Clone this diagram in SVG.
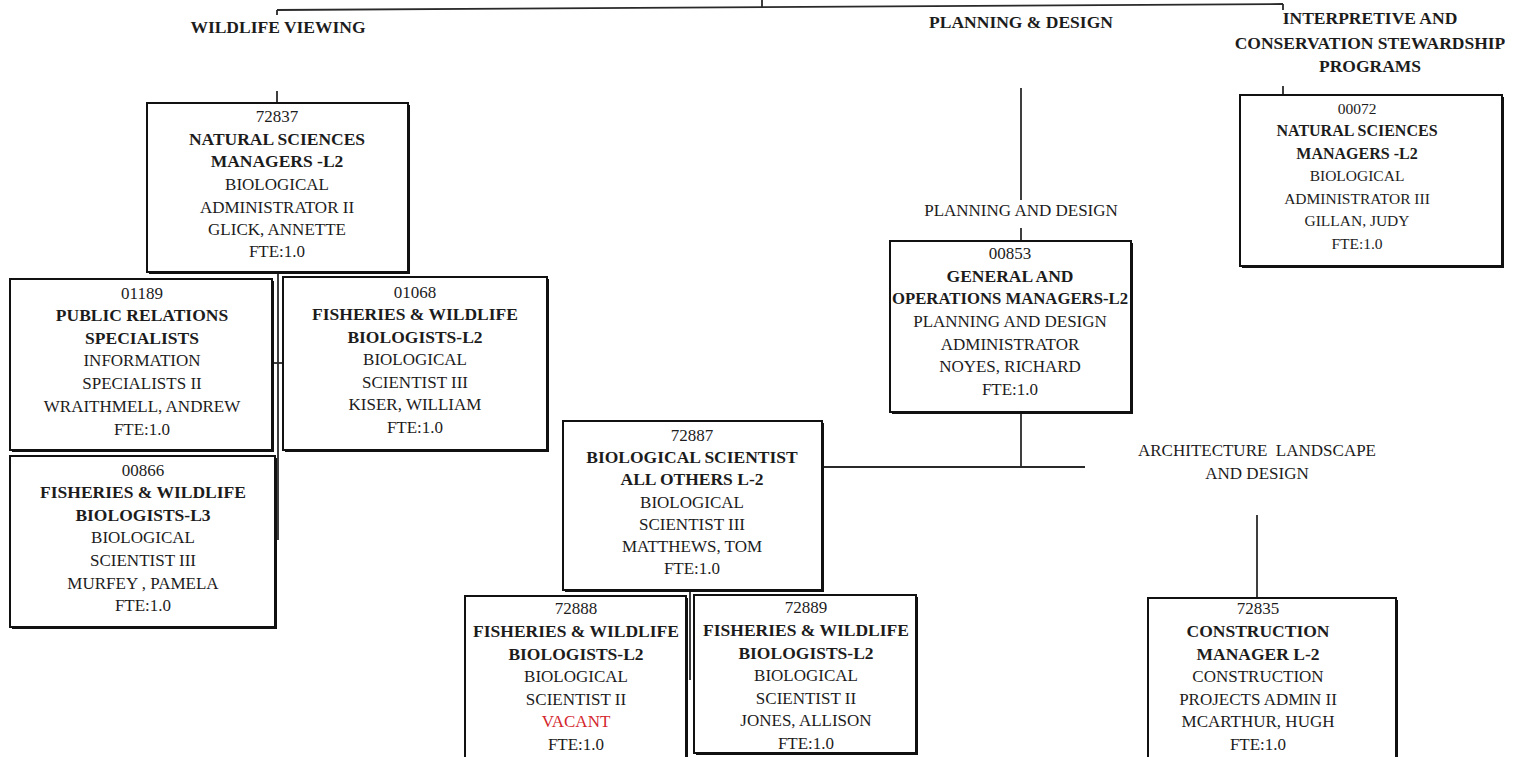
<svg xmlns="http://www.w3.org/2000/svg" width="1515" height="757" viewBox="0 0 1515 757">
  <style>
    .shadow { fill: #111; }
    .box { fill: #fff; stroke: #111; stroke-width: 2; }
    .t { font-family: 'Liberation Serif', 'DejaVu Serif', serif; font-size: 17px; fill: #1c1c1c; text-anchor: middle; }
    .b { font-weight: bold; font-size: 17.5px; }
    .sm { font-size: 15.5px; }
    .smb { font-weight: bold; font-size: 16px; }
    .vacant { fill: #d4262c; }
    .conn { stroke: #2a2a2a; stroke-width: 1.8; fill: none; }
  </style>

  <!-- connectors -->
  <g id="connectors">
    <path class="conn" d="M277 10 L1283 4" />
    <path class="conn" d="M762 0 L762 8" />
    <path class="conn" d="M277 10 L277 15" />
    <path class="conn" d="M1283 4 L1283 10" />
    <!-- wildlife viewing -->
    <path class="conn" d="M277 91 L277 103" />
    <path class="conn" d="M278 272 L278 540" />
    <path class="conn" d="M272 363 L284 363" />
    <!-- biological scientist team -->
    <path class="conn" d="M690 590 L690 680" />
    <!-- planning & design -->
    <path class="conn" d="M1021 88 L1021 200" />
    <path class="conn" d="M1021 228 L1021 241" />
    <path class="conn" d="M1021 412 L1021 467" />
    <path class="conn" d="M822 467 L1085 467" />
    <path class="conn" d="M1257 515 L1257 598" />
    <!-- interpretive programs -->
    <path class="conn" d="M1283 86 L1283 95" />
  </g>

  <!-- section headings -->
  <g id="headings">
    <text class="t b" x="278" y="33">WILDLIFE VIEWING</text>
    <text class="t b" x="1021" y="28">PLANNING &amp; DESIGN</text>
    <text class="t b" x="1370" y="24">INTERPRETIVE AND</text>
    <text class="t b" x="1370" y="49">CONSERVATION STEWARDSHIP</text>
    <text class="t b" x="1370" y="72">PROGRAMS</text>
    <text class="t" x="1021" y="216">PLANNING AND DESIGN</text>
    <text class="t" x="1257" y="456" xml:space="preserve">ARCHITECTURE  LANDSCAPE</text>
    <text class="t" x="1257" y="479">AND DESIGN</text>
  </g>

  <!-- 72837 -->
  <g id="n72837">
    <rect class="shadow" x="149" y="105" width="261" height="169" />
    <rect class="box" x="147" y="103" width="261" height="169" />
    <text class="t" x="277" y="122">72837</text>
    <text class="t b" x="277" y="145">NATURAL SCIENCES</text>
    <text class="t b" x="277" y="167">MANAGERS -L2</text>
    <text class="t" x="277" y="190">BIOLOGICAL</text>
    <text class="t" x="277" y="213">ADMINISTRATOR II</text>
    <text class="t" x="277" y="235">GLICK, ANNETTE</text>
    <text class="t" x="277" y="257">FTE:1.0</text>
  </g>

  <!-- 01189 -->
  <g id="n01189">
    <rect class="shadow" x="12" y="281" width="262" height="171" />
    <rect class="box" x="10" y="279" width="262" height="171" />
    <text class="t" x="142" y="299">01189</text>
    <text class="t b" x="142" y="321">PUBLIC RELATIONS</text>
    <text class="t b" x="142" y="344">SPECIALISTS</text>
    <text class="t" x="142" y="366">INFORMATION</text>
    <text class="t" x="142" y="389">SPECIALISTS II</text>
    <text class="t" x="142" y="412">WRAITHMELL, ANDREW</text>
    <text class="t" x="142" y="435">FTE:1.0</text>
  </g>

  <!-- 01068 -->
  <g id="n01068">
    <rect class="shadow" x="285" y="279" width="264" height="173" />
    <rect class="box" x="283" y="277" width="264" height="173" />
    <text class="t" x="415" y="298">01068</text>
    <text class="t b" x="415" y="320">FISHERIES &amp; WILDLIFE</text>
    <text class="t b" x="415" y="343">BIOLOGISTS-L2</text>
    <text class="t" x="415" y="365">BIOLOGICAL</text>
    <text class="t" x="415" y="388">SCIENTIST III</text>
    <text class="t" x="415" y="410">KISER, WILLIAM</text>
    <text class="t" x="415" y="433">FTE:1.0</text>
  </g>

  <!-- 00866 -->
  <g id="n00866">
    <rect class="shadow" x="12" y="458" width="265" height="171" />
    <rect class="box" x="10" y="456" width="265" height="171" />
    <text class="t" x="143" y="476">00866</text>
    <text class="t b" x="143" y="498">FISHERIES &amp; WILDLIFE</text>
    <text class="t b" x="143" y="521">BIOLOGISTS-L3</text>
    <text class="t" x="143" y="543">BIOLOGICAL</text>
    <text class="t" x="143" y="566">SCIENTIST III</text>
    <text class="t" x="143" y="589">MURFEY , PAMELA</text>
    <text class="t" x="143" y="611">FTE:1.0</text>
  </g>

  <!-- 72887 -->
  <g id="n72887">
    <rect class="shadow" x="565" y="423" width="259" height="169" />
    <rect class="box" x="563" y="421" width="259" height="169" />
    <text class="t" x="692" y="441">72887</text>
    <text class="t b" x="692" y="463">BIOLOGICAL SCIENTIST</text>
    <text class="t b" x="692" y="485">ALL OTHERS L-2</text>
    <text class="t" x="692" y="508">BIOLOGICAL</text>
    <text class="t" x="692" y="530">SCIENTIST III</text>
    <text class="t" x="692" y="552">MATTHEWS, TOM</text>
    <text class="t" x="692" y="574">FTE:1.0</text>
  </g>

  <!-- 72888 -->
  <g id="n72888">
    <rect class="shadow" x="467" y="598" width="221" height="165" />
    <rect class="box" x="465" y="596" width="221" height="165" />
    <text class="t" x="576" y="614">72888</text>
    <text class="t b" x="576" y="637">FISHERIES &amp; WILDLIFE</text>
    <text class="t b" x="576" y="660">BIOLOGISTS-L2</text>
    <text class="t" x="576" y="682">BIOLOGICAL</text>
    <text class="t" x="576" y="705">SCIENTIST II</text>
    <text class="t vacant" x="576" y="727">VACANT</text>
    <text class="t" x="576" y="750">FTE:1.0</text>
  </g>

  <!-- 72889 -->
  <g id="n72889">
    <rect class="shadow" x="696" y="597" width="222" height="158" />
    <rect class="box" x="694" y="595" width="222" height="158" />
    <text class="t" x="806" y="613">72889</text>
    <text class="t b" x="806" y="636">FISHERIES &amp; WILDLIFE</text>
    <text class="t b" x="806" y="659">BIOLOGISTS-L2</text>
    <text class="t" x="806" y="681">BIOLOGICAL</text>
    <text class="t" x="806" y="704">SCIENTIST II</text>
    <text class="t" x="806" y="726">JONES, ALLISON</text>
    <text class="t" x="806" y="749">FTE:1.0</text>
  </g>

  <!-- 00853 -->
  <g id="n00853">
    <rect class="shadow" x="892" y="243" width="241" height="171" />
    <rect class="box" x="890" y="241" width="241" height="171" />
    <text class="t" x="1010" y="259">00853</text>
    <text class="t b" x="1010" y="282">GENERAL AND</text>
    <text class="t b" x="1010" y="304" textLength="236" lengthAdjust="spacingAndGlyphs">OPERATIONS MANAGERS-L2</text>
    <text class="t" x="1010" y="327">PLANNING AND DESIGN</text>
    <text class="t" x="1010" y="350">ADMINISTRATOR</text>
    <text class="t" x="1010" y="372">NOYES, RICHARD</text>
    <text class="t" x="1010" y="395">FTE:1.0</text>
  </g>

  <!-- 00072 -->
  <g id="n00072">
    <rect class="shadow" x="1242" y="97" width="262" height="171" />
    <rect class="box" x="1240" y="95" width="262" height="171" />
    <text class="t sm" x="1357" y="114">00072</text>
    <text class="t smb" x="1357" y="136">NATURAL SCIENCES</text>
    <text class="t smb" x="1357" y="159">MANAGERS -L2</text>
    <text class="t sm" x="1357" y="181">BIOLOGICAL</text>
    <text class="t sm" x="1357" y="204">ADMINISTRATOR III</text>
    <text class="t sm" x="1357" y="226">GILLAN, JUDY</text>
    <text class="t sm" x="1357" y="249">FTE:1.0</text>
  </g>

  <!-- 72835 -->
  <g id="n72835">
    <rect class="shadow" x="1150" y="600" width="248" height="165" />
    <rect class="box" x="1148" y="598" width="248" height="165" />
    <text class="t" x="1258" y="614">72835</text>
    <text class="t b" x="1258" y="637">CONSTRUCTION</text>
    <text class="t b" x="1258" y="660">MANAGER L-2</text>
    <text class="t" x="1258" y="682">CONSTRUCTION</text>
    <text class="t" x="1258" y="705">PROJECTS ADMIN II</text>
    <text class="t" x="1258" y="727">MCARTHUR, HUGH</text>
    <text class="t" x="1258" y="750">FTE:1.0</text>
  </g>
</svg>
